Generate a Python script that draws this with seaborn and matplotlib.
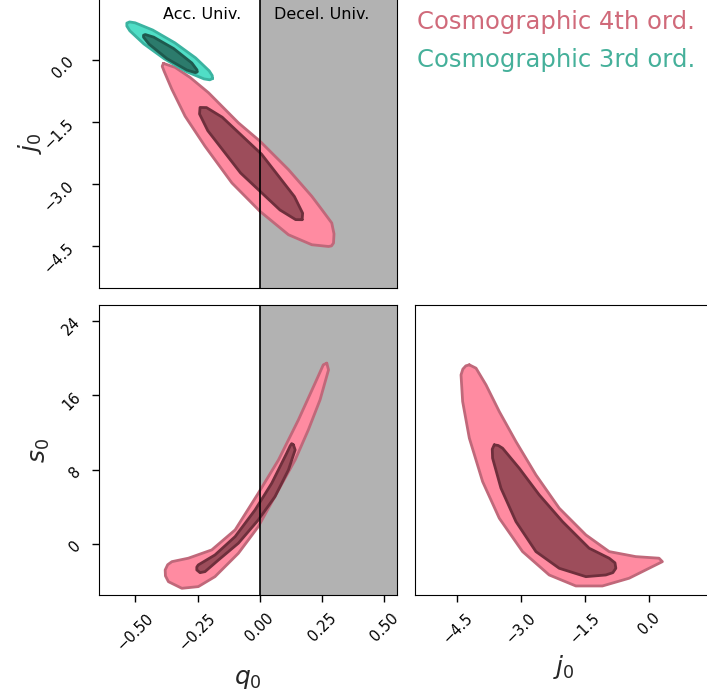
"""corner plot of cosmographic parameters q0, j0, s0 (68% / 95% regions)"""
import matplotlib
matplotlib.use("Agg")
import matplotlib.pyplot as plt
import seaborn as sns
import pandas as pd

sns.set_style("ticks", {"axes.edgecolor": "black", "xtick.color": "black",
                        "ytick.color": "black", "text.color": "black"})

# contour outlines, (x, y) in data units
# q0 - j0 panel, 4th order
QJ_4TH_95 = [(-0.387, -0.08), (-0.340, -0.177), (-0.280, -0.419), (-0.206, -0.789),
             (-0.086, -1.516), (0.001, -1.961), (0.115, -2.646), (0.209, -3.293),
             (0.250, -3.62), (0.289, -3.937), (0.298, -4.20), (0.296, -4.421),
             (0.288, -4.49), (0.276, -4.504), (0.209, -4.462), (0.115, -4.220),
             (0.001, -3.656), (-0.112, -2.969), (-0.220, -2.082), (-0.300, -1.356),
             (-0.353, -0.709), (-0.384, -0.274), (-0.392, -0.15)]
QJ_4TH_68 = [(0.170, -3.857), (0.144, -3.855), (0.081, -3.622), (-0.077, -2.729),
             (-0.209, -1.705), (-0.242, -1.303), (-0.240, -1.145), (-0.214, -1.148),
             (-0.151, -1.380), (0.007, -2.274), (0.139, -3.298), (0.172, -3.700)]
# q0 - j0 panel, 3rd order
QJ_3RD_95 = [(-0.190, -0.448), (-0.201, -0.477), (-0.224, -0.455), (-0.294, -0.281),
             (-0.383, 0.029), (-0.466, 0.392), (-0.522, 0.707), (-0.534, 0.821),
             (-0.534, 0.893), (-0.523, 0.922), (-0.501, 0.901), (-0.430, 0.726),
             (-0.341, 0.416), (-0.258, 0.053), (-0.203, -0.262), (-0.191, -0.375)]
QJ_3RD_68 = [(-0.252, -0.286), (-0.259, -0.303), (-0.293, -0.240), (-0.373, 0.036),
             (-0.445, 0.385), (-0.467, 0.554), (-0.467, 0.600), (-0.460, 0.617),
             (-0.426, 0.554), (-0.346, 0.278), (-0.273, -0.070), (-0.252, -0.240)]
# q0 - s0 panel, 4th order
QS_4TH_95 = [(0.269, 19.44), (0.276, 18.72), (0.242, 15.50), (0.195, 12.28),
             (0.142, 9.05), (0.075, 5.83), (-0.006, 1.89), (-0.086, -0.97),
             (-0.180, -3.48), (-0.247, -4.55), (-0.313, -4.73), (-0.367, -4.02),
             (-0.379, -3.40), (-0.380, -2.76), (-0.370, -2.20), (-0.353, -1.87),
             (-0.287, -1.50), (-0.193, -0.61), (-0.099, 1.54), (-0.006, 5.48),
             (0.075, 9.05), (0.155, 13.35), (0.222, 17.29), (0.255, 19.26)]
QS_4TH_68 = [(0.135, 10.67), (0.142, 10.13), (0.115, 7.98), (0.061, 5.11),
             (-0.006, 2.61), (-0.086, 0.11), (-0.166, -1.69), (-0.220, -2.94),
             (-0.240, -3.05), (-0.253, -2.76), (-0.253, -2.45), (-0.247, -2.22),
             (-0.180, -1.15), (-0.099, 0.82), (-0.019, 3.68), (0.048, 6.55),
             (0.108, 9.77), (0.122, 10.56), (0.128, 10.80)]
# j0 - s0 panel, 4th order
JS_4TH_95 = [(-4.218, 19.26), (-4.061, 18.90), (-3.827, 17.11), (-3.515, 14.24),
             (-3.124, 11.02), (-2.655, 7.44), (-2.109, 3.87), (-1.483, 1.00),
             (-0.937, -0.79), (-0.312, -1.33), (0.234, -1.50), (0.312, -1.87),
             (0.000, -2.58), (-0.469, -3.65), (-1.094, -4.48), (-1.718, -4.48),
             (-2.344, -3.30), (-2.969, -0.79), (-3.515, 2.79), (-3.906, 6.72),
             (-4.218, 11.39), (-4.375, 15.32), (-4.413, 18.18), (-4.370, 18.80),
             (-4.300, 19.15)]
JS_4TH_68 = [(-3.633, 10.67), (-3.540, 10.60), (-3.438, 10.31), (-3.047, 8.16),
             (-2.578, 5.30), (-2.032, 2.43), (-1.406, -0.43), (-0.937, -1.50),
             (-0.800, -2.00), (-0.780, -2.58), (-0.850, -3.05), (-1.015, -3.30),
             (-1.483, -3.48), (-2.109, -2.58), (-2.655, -0.79), (-3.124, 2.43),
             (-3.476, 6.02), (-3.672, 9.24), (-3.680, 10.20)]

Q_TICKS = [-0.50, -0.25, 0.00, 0.25, 0.50]
J_TICKS = [-4.5, -3.0, -1.5, 0.0]
S_TICKS = [0, 8, 16, 24]
LABELS = ["Cosmographic 4th ord.", "Cosmographic 3rd ord."]

Q_LIM = (-0.647, 0.551)
J_LIM = (-5.5, 1.5)
S_LIM = (-5.45, 25.65)

PINK = dict(fill95="#ff8ba1", fill68="#9d4d5b", edge95="#c0687a", edge68="#6e2f3c", text="#d06a7a")
TEAL = dict(fill95="#50dec6", fill68="#2c7b6c", edge95="#3bb3a0", edge68="#1e5a4e", text="#45b09a")


def fmt(v, nd):
    return f"{v:.{nd}f}".replace("-", "\u2212")


def draw_region(ax, pts, fill, edge, z):
    df = pd.DataFrame(pts + pts[:1], columns=["x", "y"])
    ax.fill(df["x"], df["y"], color=fill, lw=0, zorder=z)
    sns.lineplot(data=df, x="x", y="y", sort=False, estimator=None, color=edge,
                 lw=2, ax=ax, zorder=z + 0.1, solid_joinstyle="round")


def draw_pair(ax, outer, inner, c, z):
    draw_region(ax, outer, c["fill95"], c["edge95"], z)
    draw_region(ax, inner, c["fill68"], c["edge68"], z + 0.5)


def shade_q(ax):
    ax.axvspan(0, Q_LIM[1] + 0.1, color="#b2b2b2", lw=0, zorder=0)
    ax.axvline(0, color="black", lw=1.2, zorder=10)


fig = plt.figure(figsize=(7.07, 6.98), dpi=100)
W, H = 707, 698
def px_axes(x0, y0, x1, y1):
    return fig.add_axes([x0 / W, 1 - y1 / H, (x1 - x0) / W, (y1 - y0) / H])

ax_qj = px_axes(98.7, -2, 397, 287.7)
ax_qs = px_axes(98.7, 305.3, 397, 595)
ax_js = px_axes(414.7, 305.3, 713, 595)

# q0 - j0
shade_q(ax_qj)
draw_pair(ax_qj, QJ_4TH_95, QJ_4TH_68, PINK, 2)
draw_pair(ax_qj, QJ_3RD_95, QJ_3RD_68, TEAL, 4)
ax_qj.text(-0.233, 1.0, "Acc. Univ.", ha="center", va="baseline", fontsize=11.5, zorder=11)
ax_qj.text(0.250, 1.0, "Decel. Univ.", ha="center", va="baseline", fontsize=11.5, zorder=11)
ax_qj.set_xlim(Q_LIM)
ax_qj.set_ylim(J_LIM)
ax_qj.set_yticks(J_TICKS)
ax_qj.set_yticklabels([fmt(t, 1) for t in J_TICKS])
ax_qj.tick_params(axis="x", bottom=False, labelbottom=False)
ax_qj.tick_params(axis="y", pad=11)
ax_qj.set_xlabel("")
ax_qj.set_ylabel("$j_0$", fontsize=18)
ax_qj.yaxis.set_label_coords(-0.183, 0.5)

# q0 - s0
shade_q(ax_qs)
draw_pair(ax_qs, QS_4TH_95, QS_4TH_68, PINK, 2)
ax_qs.set_xlim(Q_LIM)
ax_qs.set_ylim(S_LIM)
ax_qs.set_xticks(Q_TICKS)
ax_qs.set_xticklabels([fmt(t, 2) for t in Q_TICKS])
ax_qs.set_yticks(S_TICKS)
ax_qs.tick_params(axis="y", pad=6)
ax_qs.set_xlabel("$q_0$", fontsize=18, labelpad=10)
ax_qs.set_ylabel("$s_0$", fontsize=18)
ax_qs.yaxis.set_label_coords(-0.157, 0.5)

# j0 - s0
draw_pair(ax_js, JS_4TH_95, JS_4TH_68, PINK, 2)
ax_js.set_xlim(J_LIM)
ax_js.set_ylim(S_LIM)
ax_js.set_xticks(J_TICKS)
ax_js.set_xticklabels([fmt(t, 1) for t in J_TICKS])
ax_js.tick_params(axis="y", left=False, labelleft=False)
ax_js.set_xlabel("$j_0$", fontsize=18, labelpad=5)
ax_js.set_ylabel("")

for ax in (ax_qj, ax_qs, ax_js):
    ax.tick_params(length=5, width=1)
    ax.tick_params(axis="x", pad=6)
    for lab in ax.get_xticklabels() + ax.get_yticklabels():
        lab.set_rotation(45)
        lab.set_fontsize(10.5)
    for sp in ax.spines.values():
        sp.set_zorder(12)

fig.text(416.7 / W, 1 - 29 / H, LABELS[0], color=PINK["text"], fontsize=17.5, va="baseline")
fig.text(416.7 / W, 1 - 66.7 / H, LABELS[1], color=TEAL["text"], fontsize=17.5, va="baseline")

fig.savefig("out.png", dpi=100)
plt.close(fig)
